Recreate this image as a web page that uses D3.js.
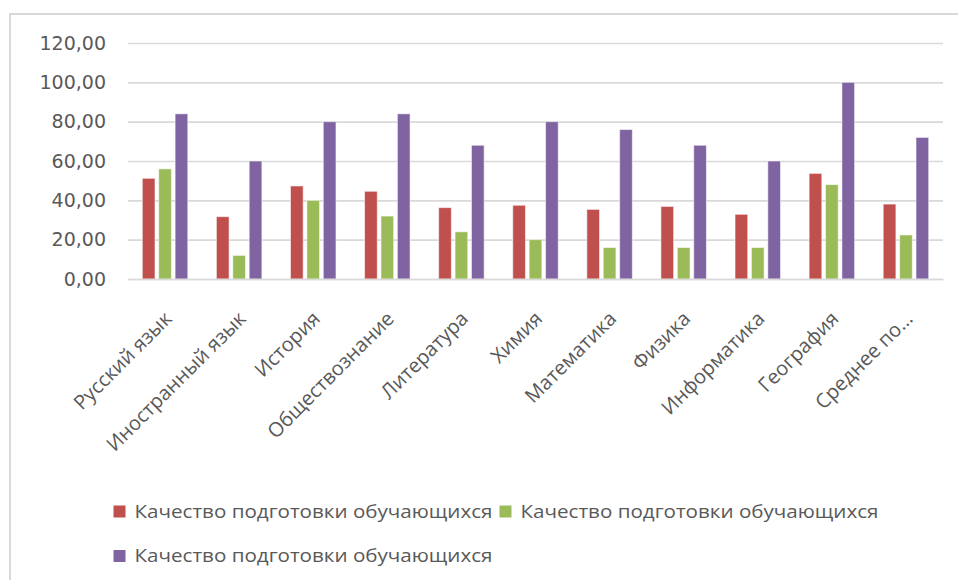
<!DOCTYPE html>
<html>
<head>
<meta charset="utf-8">
<script src="https://cdn.jsdelivr.net/npm/d3@7/dist/d3.min.js"></script>
<style>
  html, body { margin: 0; padding: 0; background: #ffffff; }
  svg { display: block; }
</style>
</head>
<body>
<script>
const categories = ["Русский язык", "Иностранный язык", "История", "Обществознание", "Литература", "Химия", "Математика", "Физика", "Информатика", "География", "Среднее по…"];
const seriesNames = ["Качество подготовки обучающихся", "Качество подготовки обучающихся", "Качество подготовки обучающихся"];
const series1 = [51.2, 31.7, 47.3, 44.6, 36.3, 37.5, 35.4, 36.9, 32.9, 53.7, 38.1];
const series2 = [56, 12, 40, 32, 24, 20, 16, 16, 16, 48, 22.4];
const series3 = [84, 60, 80, 84, 68, 80, 76, 68, 60, 100, 72];
const yTicks = [0, 20, 40, 60, 80, 100, 120];
const colors = ["#C0504D", "#9BBB59", "#8064A2"];

const W = 958, H = 580;
const svg = d3.select("body").append("svg").attr("width", W).attr("height", H);

// chart frame
svg.append("rect").attr("x", 10).attr("y", 14).attr("width", 1000).attr("height", 700)
  .attr("fill", "#fff").attr("stroke", "#d9d9d9").attr("stroke-width", 2);

const plot = { left: 128, right: 943, top: 43, bottom: 279 };
const x0 = d3.scaleBand().domain(d3.range(categories.length)).range([plot.left, plot.right]).paddingInner(0).paddingOuter(0);
const y = d3.scaleLinear().domain([0, 120]).range([plot.bottom, plot.top]);
const groupW = x0.bandwidth() * 0.614;
const x1 = d3.scaleBand().domain([0, 1, 2]).range([0, groupW]).paddingInner(0.226).paddingOuter(0);

const loc = d3.formatLocale({ decimal: ",", thousands: " ", grouping: [3], currency: ["", ""] });
const fmt = loc.format(".2f");

// gridlines
const yAxis = d3.axisLeft(y).tickValues(yTicks).tickSize(-(plot.right - plot.left)).tickFormat(fmt).tickPadding(22);
const ga = svg.append("g").attr("transform", `translate(${plot.left},0)`).call(yAxis);
ga.select(".domain").remove();
ga.selectAll(".tick line").attr("stroke", "#d9d9d9").attr("stroke-width", 1.6);
ga.selectAll(".tick text").attr("fill", "#595959").attr("font-family", "'DejaVu Sans', sans-serif").attr("font-size", 19);

// bars
const data = [series1, series2, series3];
const groups = svg.append("g").selectAll("g").data(categories).join("g")
  .attr("transform", (d, i) => `translate(${x0(i) + (x0.bandwidth() - groupW) / 2},0)`);
groups.selectAll("rect").data((d, i) => data.map((s, k) => ({ k, v: s[i] }))).join("rect")
  .attr("x", d => x1(d.k))
  .attr("width", x1.bandwidth())
  .attr("y", d => y(d.v))
  .attr("height", d => y(0) - y(d.v))
  .attr("fill", d => colors[d.k])
  .attr("stroke", "#ffffff").attr("stroke-opacity", 0.55).attr("stroke-width", 1);

// category labels
const xAxis = d3.axisBottom(x0).tickSize(0).tickFormat(i => categories[i]);
const gx = svg.append("g").attr("transform", `translate(0,${plot.bottom})`).call(xAxis);
gx.select(".domain").attr("stroke", "#d9d9d9").attr("stroke-width", 1.6);
gx.selectAll(".tick text")
  .attr("fill", "#595959")
  .attr("font-family", "'Open Sans', sans-serif")
  .attr("font-size", 20)
  .attr("text-anchor", "end")
  .attr("dy", 0).attr("y", 0)
  .attr("transform", "translate(8,41) rotate(-45)");

// legend
const legendItems = [
  { k: 0, x: 113.5, y: 511.5 },
  { k: 1, x: 499.5, y: 511.5 },
  { k: 2, x: 113.5, y: 556 }
];
const lg = svg.append("g").selectAll("g").data(legendItems).join("g")
  .attr("transform", d => `translate(${d.x},${d.y})`);
lg.append("rect").attr("x", 0).attr("y", -6).attr("width", 12).attr("height", 12)
  .attr("fill", d => colors[d.k]);
lg.append("text").attr("x", 21).attr("y", 0).attr("dy", "0.35em")
  .attr("fill", "#595959")
  .attr("font-family", "'Open Sans', sans-serif").attr("font-size", 18.5)
  .attr("textLength", 358).attr("lengthAdjust", "spacingAndGlyphs")
  .text(d => seriesNames[d.k]);
</script>
</body>
</html>
